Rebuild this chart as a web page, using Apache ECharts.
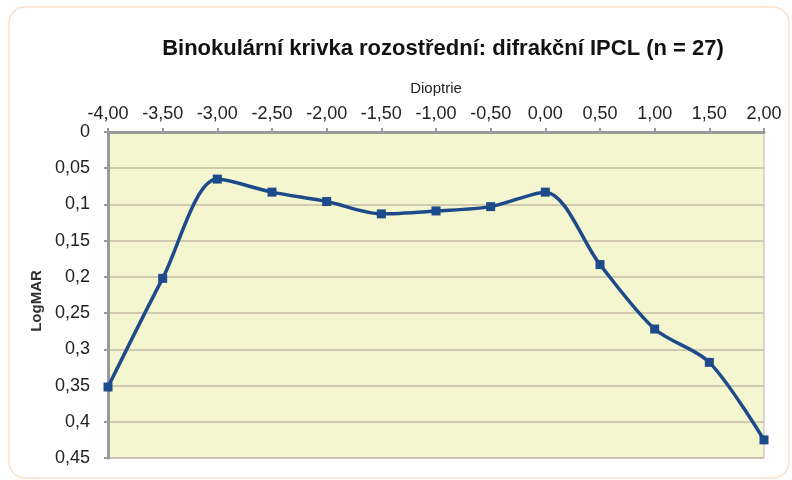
<!DOCTYPE html>
<html lang="cs">
<head>
    <meta charset="UTF-8">
    <title>Binokulární krivka rozostřední</title>
    <script src="https://cdn.jsdelivr.net/npm/echarts@6.0.0/dist/echarts.min.js"></script>
    <style>
        html, body { margin: 0; padding: 0; background: #fff; }
        #viz { width: 792px; height: 480px; }
    </style>
</head>
<body>
    <div id="viz"></div>
    <script>
        const title = 'Binokulární krivka rozostřední: difrakční IPCL (n = 27)';
        const diopters = [-4, -3.5, -3, -2.5, -2, -1.5, -1, -0.5, 0, 0.5, 1, 1.5, 2];
        const logMAR = [0.352, 0.202, 0.065, 0.083, 0.096, 0.113, 0.109, 0.103, 0.083, 0.183, 0.272, 0.318, 0.425];

        const comma = v => String(+v.toFixed(2)).replace('.', ',');
        const font = '"Liberation Sans", Arial, sans-serif';

        const chart = echarts.init(document.getElementById('viz'), null, { renderer: 'canvas' });

        const option = {
            backgroundColor: '#fff',
            animation: false,
            textStyle: { fontFamily: font },
            graphic: [{
                type: 'rect',
                shape: { x: 9, y: 7, width: 780, height: 471, r: 16 },
                style: { fill: 'none', stroke: '#fbe1cc', lineWidth: 1.5 },
                z: -10
            }],
            title: {
                text: title,
                left: 438,
                top: 33,
                textAlign: 'center',
                textStyle: { fontSize: 22, fontWeight: 'bold', color: '#111', fontFamily: font }
            },
            grid: {
                left: 108, right: 28, top: 132, bottom: 22,
                show: true,
                backgroundColor: '#f4f6d0',
                borderColor: '#b8b8b0',
                borderWidth: 1
            },
            xAxis: {
                type: 'value',
                position: 'top',
                min: -4, max: 2, interval: 0.5,
                name: 'Dioptrie',
                nameLocation: 'middle',
                nameGap: 36,
                nameTextStyle: { fontSize: 15, color: '#222' },
                axisLine: { show: true, onZero: false, lineStyle: { color: '#9a9a9a', width: 3 } },
                axisTick: { show: true, length: 4, lineStyle: { color: '#9a9a9a', width: 2 } },
                axisLabel: {
                    fontSize: 18, color: '#222', margin: 9,
                    formatter: v => v.toFixed(2).replace('.', ',')
                },
                splitLine: { show: false }
            },
            yAxis: {
                type: 'value',
                inverse: true,
                min: 0, max: 0.45, interval: 0.05,
                name: 'LogMAR',
                nameLocation: 'middle',
                nameGap: 62,
                nameRotate: 90,
                nameTextStyle: { fontSize: 15, fontWeight: 'bold', color: '#333', padding: [0, 12, 0, 0] },
                axisLine: { show: true, onZero: false, lineStyle: { color: '#9a9a9a', width: 3 } },
                axisTick: { show: true, length: 4, lineStyle: { color: '#9a9a9a', width: 2 } },
                axisLabel: { fontSize: 18, color: '#222', margin: 18, formatter: comma },
                splitLine: { show: true, lineStyle: { color: '#c4bca6', width: 1.5 } }
            },
            series: [{
                type: 'line',
                data: diopters.map((d, i) => [d, logMAR[i]]),
                smooth: 0.3,
                symbol: 'rect',
                symbolSize: 9,
                lineStyle: { color: '#1d4a8a', width: 3.5 },
                itemStyle: { color: '#1d4a8a' }
            }]
        };

        chart.setOption(option);
        window.onresize = () => chart.resize();
    </script>
</body>
</html>
